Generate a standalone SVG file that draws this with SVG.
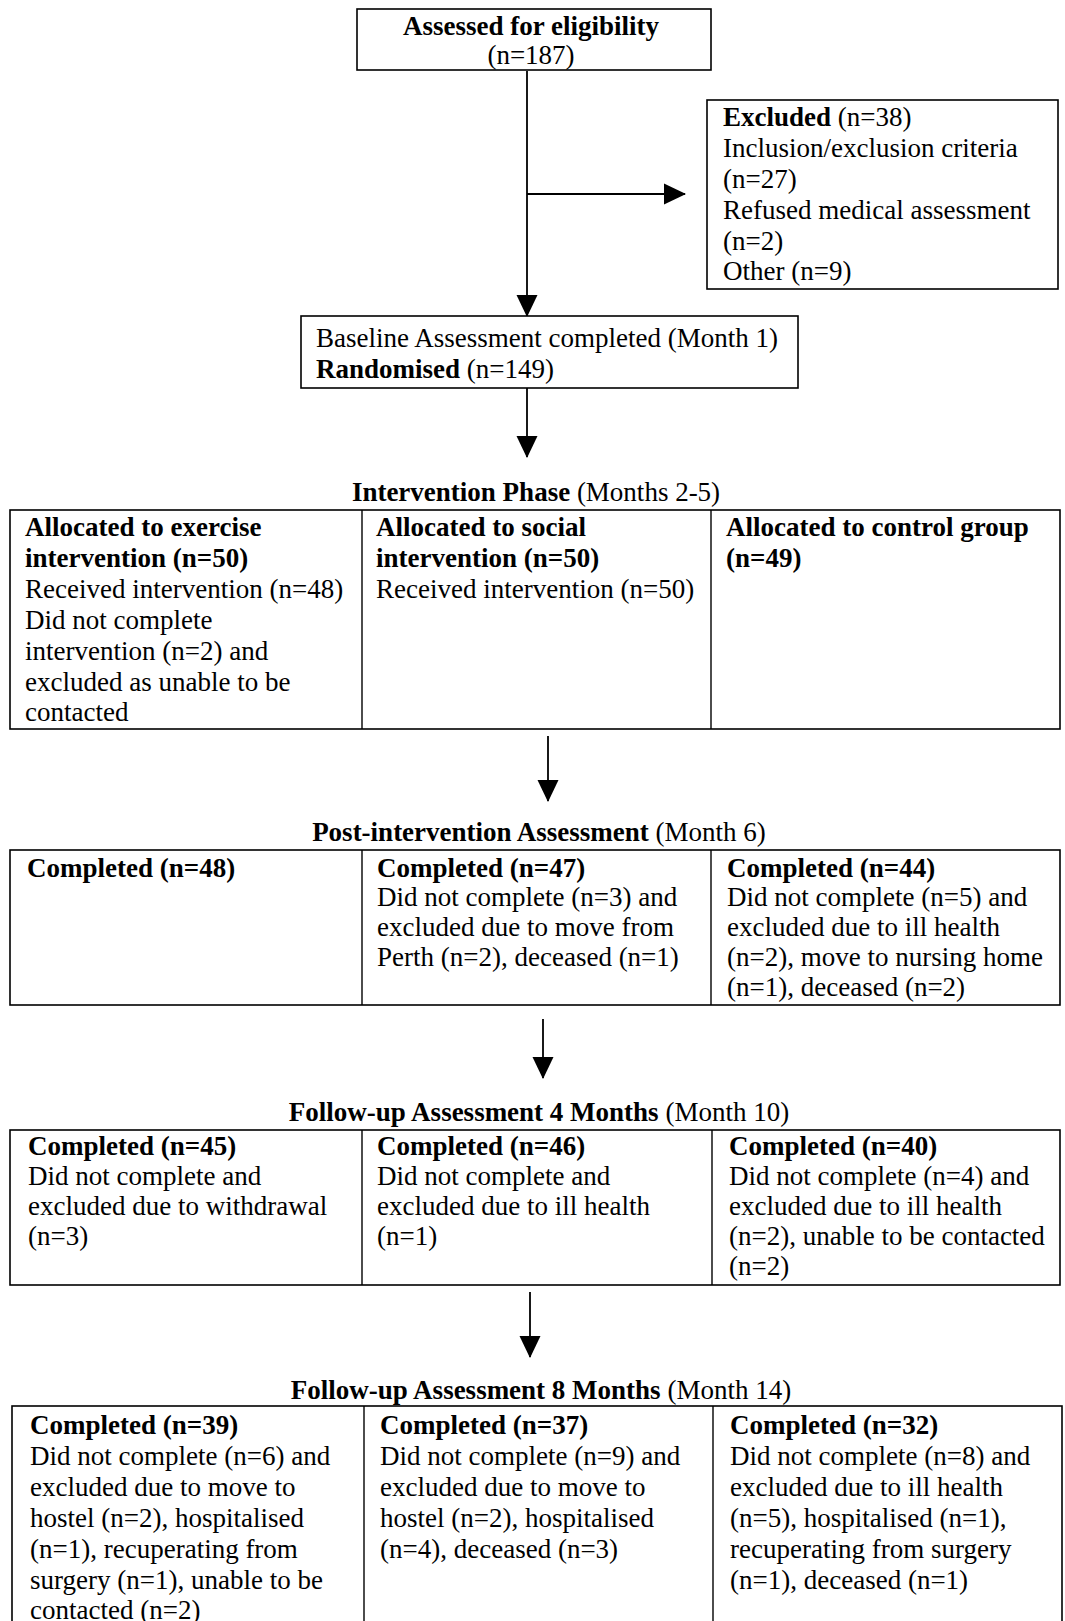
<svg xmlns="http://www.w3.org/2000/svg" width="1065" height="1621" viewBox="0 0 1065 1621">
<style>
  text { font-family: "Liberation Serif", "Times New Roman", serif; font-size: 27px; fill: #000; }
  .b { font-weight: bold; }
  .box { fill: #fff; stroke: #000; stroke-width: 1.6; }
  .div { stroke: #000; stroke-width: 1.4; }
  .con { stroke: #000; stroke-width: 1.8; fill: none; }
  .mid { text-anchor: middle; }
</style>
<defs>
  <marker id="ah" markerUnits="userSpaceOnUse" markerWidth="22" markerHeight="22" viewBox="0 0 22 22" refX="21" refY="11" orient="auto">
    <path d="M0,0.5 L22,11 L0,21.5 z" fill="#000"/>
  </marker>
</defs>
<rect width="1065" height="1621" fill="#fff"/>

<g id="connectors">
  <line class="con" x1="527" y1="71" x2="527" y2="316" marker-end="url(#ah)"/>
  <line class="con" x1="527" y1="194" x2="685" y2="194" marker-end="url(#ah)"/>
  <line class="con" x1="527" y1="388" x2="527" y2="457" marker-end="url(#ah)"/>
  <line class="con" x1="548" y1="736" x2="548" y2="801" marker-end="url(#ah)"/>
  <line class="con" x1="543" y1="1019" x2="543" y2="1078" marker-end="url(#ah)"/>
  <line class="con" x1="530" y1="1292" x2="530" y2="1357" marker-end="url(#ah)"/>
</g>

<g id="assessed">
  <rect class="box" x="357" y="9" width="354" height="61"/>
  <text class="b mid" x="531" y="35">Assessed for eligibility</text>
  <text class="mid" x="531" y="64">(n=187)</text>
</g>

<g id="excluded">
  <rect class="box" x="707" y="100" width="351" height="189"/>
  <text x="723" y="126"><tspan class="b">Excluded</tspan> (n=38)</text>
  <text x="723" y="157">Inclusion/exclusion criteria</text>
  <text x="723" y="188">(n=27)</text>
  <text x="723" y="219">Refused medical assessment</text>
  <text x="723" y="250">(n=2)</text>
  <text x="723" y="280">Other (n=9)</text>
</g>

<g id="baseline">
  <rect class="box" x="301" y="316" width="497" height="72"/>
  <text x="316" y="347">Baseline Assessment completed (Month 1)</text>
  <text x="316" y="378"><tspan class="b">Randomised</tspan> (n=149)</text>
</g>

<g id="intervention-phase">
  <text class="mid" x="536" y="501"><tspan class="b">Intervention Phase</tspan> (Months 2-5)</text>
  <rect class="box" x="10" y="510" width="1050" height="219"/>
  <line class="div" x1="362" y1="510" x2="362" y2="729"/>
  <line class="div" x1="711" y1="510" x2="711" y2="729"/>
  <g id="exercise-alloc">
    <text class="b" x="25" y="536">Allocated to exercise</text>
    <text class="b" x="25" y="567">intervention (n=50)</text>
    <text x="25" y="598">Received intervention (n=48)</text>
    <text x="25" y="629">Did not complete</text>
    <text x="25" y="660">intervention (n=2) and</text>
    <text x="25" y="691">excluded as unable to be</text>
    <text x="25" y="721">contacted</text>
  </g>
  <g id="social-alloc">
    <text class="b" x="376" y="536">Allocated to social</text>
    <text class="b" x="376" y="567">intervention (n=50)</text>
    <text x="376" y="598">Received intervention (n=50)</text>
  </g>
  <g id="control-alloc">
    <text class="b" x="726" y="536">Allocated to control group</text>
    <text class="b" x="726" y="567">(n=49)</text>
  </g>
</g>

<g id="post-intervention">
  <text class="mid" x="539" y="841"><tspan class="b">Post-intervention Assessment</tspan> (Month 6)</text>
  <rect class="box" x="10" y="850" width="1050" height="155"/>
  <line class="div" x1="362" y1="850" x2="362" y2="1005"/>
  <line class="div" x1="711" y1="850" x2="711" y2="1005"/>
  <g id="exercise-post">
    <text class="b" x="27" y="877">Completed (n=48)</text>
  </g>
  <g id="social-post">
    <text class="b" x="377" y="877">Completed (n=47)</text>
    <text x="377" y="906">Did not complete (n=3) and</text>
    <text x="377" y="936">excluded due to move from</text>
    <text x="377" y="966">Perth (n=2), deceased (n=1)</text>
  </g>
  <g id="control-post">
    <text class="b" x="727" y="877">Completed (n=44)</text>
    <text x="727" y="906">Did not complete (n=5) and</text>
    <text x="727" y="936">excluded due to ill health</text>
    <text x="727" y="966">(n=2), move to nursing home</text>
    <text x="727" y="996">(n=1), deceased (n=2)</text>
  </g>
</g>

<g id="followup-4">
  <text class="mid" x="539" y="1121"><tspan class="b">Follow-up Assessment 4 Months</tspan> (Month 10)</text>
  <rect class="box" x="10" y="1130" width="1050" height="155"/>
  <line class="div" x1="362" y1="1130" x2="362" y2="1285"/>
  <line class="div" x1="712" y1="1130" x2="712" y2="1285"/>
  <g id="exercise-4">
    <text class="b" x="28" y="1155">Completed (n=45)</text>
    <text x="28" y="1185">Did not complete and</text>
    <text x="28" y="1215">excluded due to withdrawal</text>
    <text x="28" y="1245">(n=3)</text>
  </g>
  <g id="social-4">
    <text class="b" x="377" y="1155">Completed (n=46)</text>
    <text x="377" y="1185">Did not complete and</text>
    <text x="377" y="1215">excluded due to ill health</text>
    <text x="377" y="1245">(n=1)</text>
  </g>
  <g id="control-4">
    <text class="b" x="729" y="1155">Completed (n=40)</text>
    <text x="729" y="1185">Did not complete (n=4) and</text>
    <text x="729" y="1215">excluded due to ill health</text>
    <text x="729" y="1245">(n=2), unable to be contacted</text>
    <text x="729" y="1275">(n=2)</text>
  </g>
</g>

<g id="followup-8">
  <text class="mid" x="541" y="1399"><tspan class="b">Follow-up Assessment 8 Months</tspan> (Month 14)</text>
  <rect class="box" x="12" y="1406" width="1050" height="220"/>
  <line class="div" x1="364" y1="1406" x2="364" y2="1626"/>
  <line class="div" x1="713" y1="1406" x2="713" y2="1626"/>
  <g id="exercise-8">
    <text class="b" x="30" y="1434">Completed (n=39)</text>
    <text x="30" y="1465">Did not complete (n=6) and</text>
    <text x="30" y="1496">excluded due to move to</text>
    <text x="30" y="1527">hostel (n=2), hospitalised</text>
    <text x="30" y="1558">(n=1), recuperating from</text>
    <text x="30" y="1589">surgery (n=1), unable to be</text>
    <text x="30" y="1619">contacted (n=2)</text>
  </g>
  <g id="social-8">
    <text class="b" x="380" y="1434">Completed (n=37)</text>
    <text x="380" y="1465">Did not complete (n=9) and</text>
    <text x="380" y="1496">excluded due to move to</text>
    <text x="380" y="1527">hostel (n=2), hospitalised</text>
    <text x="380" y="1558">(n=4), deceased (n=3)</text>
  </g>
  <g id="control-8">
    <text class="b" x="730" y="1434">Completed (n=32)</text>
    <text x="730" y="1465">Did not complete (n=8) and</text>
    <text x="730" y="1496">excluded due to ill health</text>
    <text x="730" y="1527">(n=5), hospitalised (n=1),</text>
    <text x="730" y="1558">recuperating from surgery</text>
    <text x="730" y="1589">(n=1), deceased (n=1)</text>
  </g>
</g>
</svg>
